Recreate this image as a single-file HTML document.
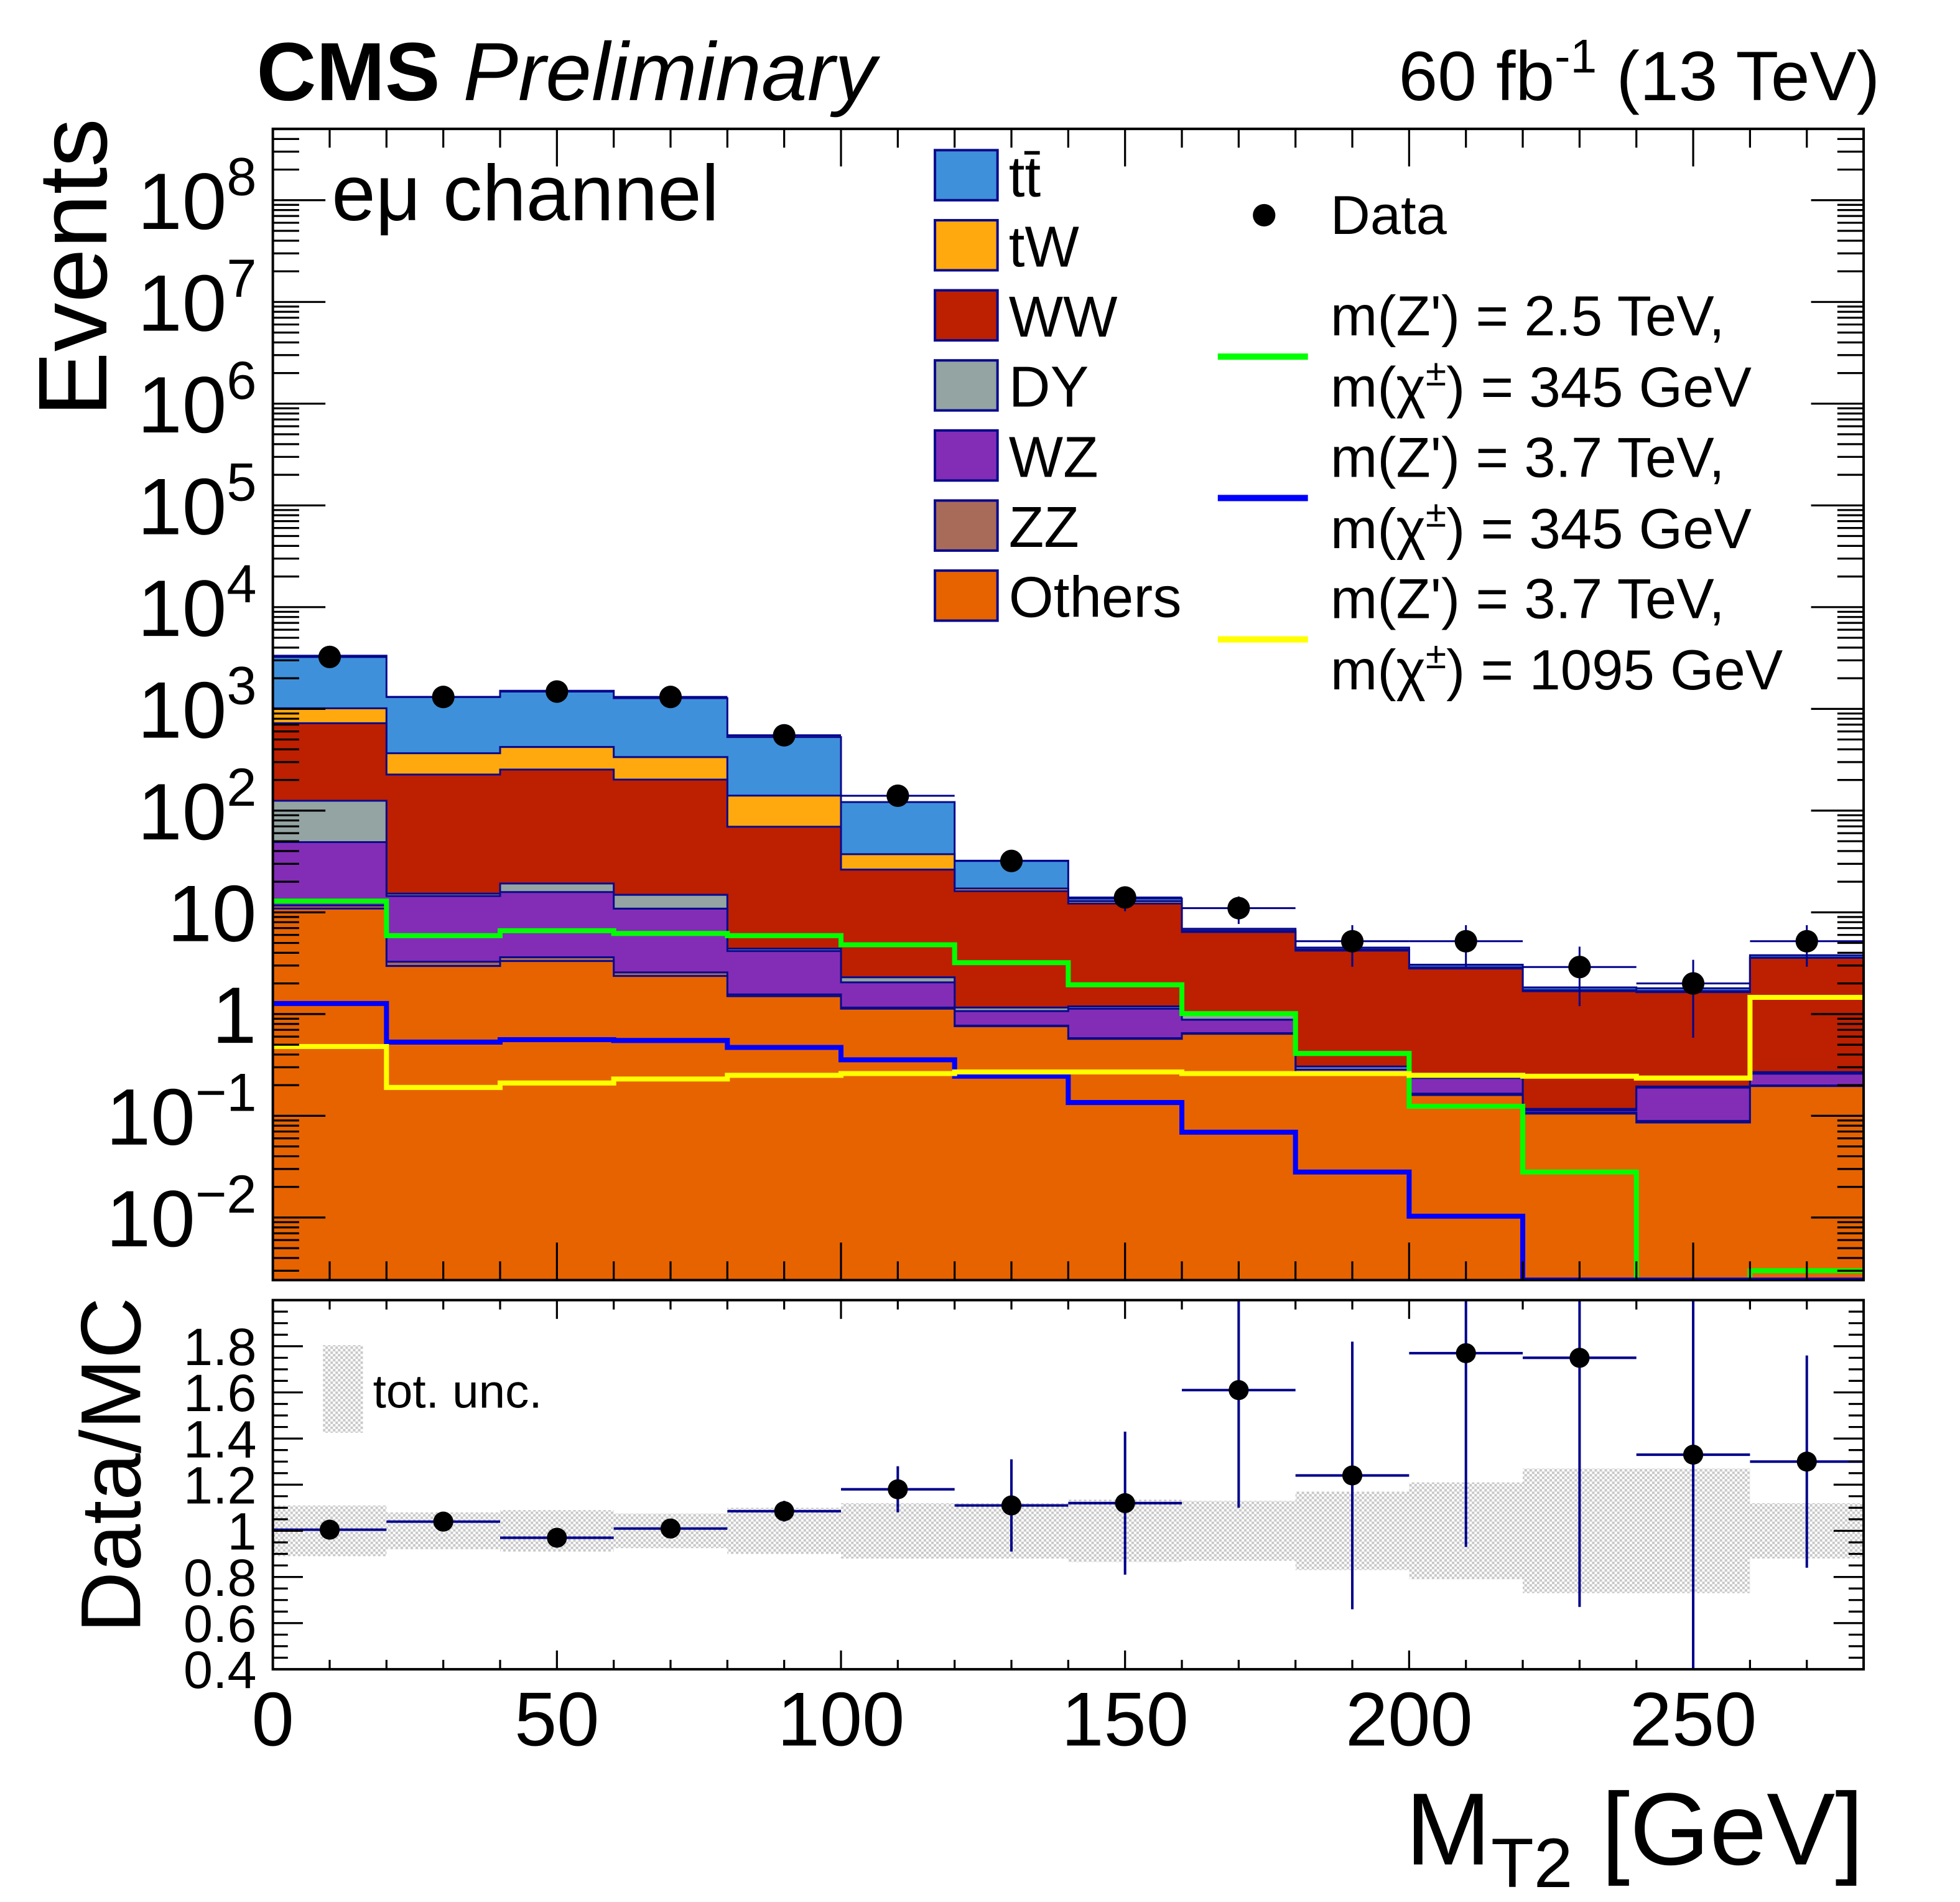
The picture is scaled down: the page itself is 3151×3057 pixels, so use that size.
<!DOCTYPE html>
<html><head><meta charset="utf-8"><style>
html,body{margin:0;padding:0;background:#fff}
svg{display:block}
text{font-family:"Liberation Sans",sans-serif;fill:#000}
</style></head><body>
<svg id="c" width="3151" height="3057" viewBox="0 0 1566 1520" preserveAspectRatio="none" xmlns="http://www.w3.org/2000/svg">
<defs>
<pattern id="hatch" width="4" height="4" patternUnits="userSpaceOnUse"><rect width="4" height="4" fill="#fff"/><rect width="2" height="2" fill="#c8c8c8"/><rect x="2" y="2" width="2" height="2" fill="#c8c8c8"/></pattern>
<clipPath id="clipMain"><rect x="218" y="103" width="1271" height="920"/></clipPath>
<clipPath id="clipRatio"><rect x="218" y="1039" width="1271" height="295"/></clipPath>
</defs>
<g id="main"></g>
<g id="ratio"></g>
<g id="labels">
<text x="205" y="80" font-size="66" font-weight="bold">CMS <tspan font-weight="normal" font-style="italic">Preliminary</tspan></text>
<text x="1502" y="80" font-size="56" text-anchor="end">60 fb<tspan dy="-22" font-size="38">-1</tspan><tspan dy="22"> (13 TeV)</tspan></text>
<text x="265" y="176" font-size="63">eμ channel</text>
<text transform="translate(85,333) rotate(-90)" font-size="78">Events</text>
<text transform="translate(112,1305) rotate(-90)" font-size="68">Data/MC</text>
<text x="1489" y="1490" font-size="82" text-anchor="end">M<tspan dy="18" font-size="56">T2</tspan><tspan dy="-18"> [GeV]</tspan></text>
</g>
<g id="legend"></g>
</svg>
<script>
const categories=[10,30,50,70,90,110,130,150,170,190,210,230,250,270];
const binEdges=[0,20,40,60,80,100,120,140,160,180,200,220,240,260,280];
const others=[10.9,2.97,3.32,2.37,1.50,1.13,0.76,0.57,0.64,0.26,0.16,0.105,0.086,0.196];
const zz=[0.8,0.3,0.3,0.2,0.06,0.03,0.01,0.01,0.01,0.005,0.005,0.002,0.003,0.003];
const wz=[37.3,11.2,12.2,8.3,2.6,0.89,0.30,0.55,0.23,0.02,0.07,0.006,0.1,0.06];
const dy=[76,0.8,3.4,4.0,0.23,0.25,0.09,0.06,0.12,0.02,0.02,0.004,0.005,0.01];
const ww=[598,211,234,187,65,24,15,11,5.4,3.9,2.55,1.56,1.45,3.3];
const tw=[291,140,169,134,71,11,1.0,0.7,0.2,0.1,0.07,0.04,0.04,0.02];
const ttbar=[2320,943,1085,938,388,84,15,0.8,0.3,0.2,0.18,0.11,0.11,0.2];
const dataVals=[3240,1310,1480,1310,550,140,32,14,11,5.2,5.2,2.9,2.0,5.2];
const sigGreen=[12.9,5.9,6.6,6.2,5.9,4.8,3.2,1.94,1.01,0.41,0.124,0.028,0,0.003];
const sigBlue=[1.27,0.53,0.56,0.55,0.47,0.355,0.245,0.135,0.069,0.028,0.0103,0,0,0];
const sigYellow=[0.48,0.19,0.21,0.23,0.25,0.26,0.27,0.27,0.26,0.26,0.25,0.245,0.235,1.46];
const ratioVals=[1.005,1.04,0.97,1.01,1.085,1.18,1.11,1.12,1.61,1.24,1.77,1.75,1.33,1.30];
const ratioErrHigh=[0.03,0.03,0.03,0.03,0.045,0.1,0.2,0.31,0.6,0.58,0.6,0.6,0.8,0.46];
const ratioErrLow=[0.03,0.03,0.03,0.03,0.045,0.1,0.2,0.31,0.51,0.58,0.84,1.08,1.0,0.46];
const uncHalf=[0.11,0.08,0.09,0.075,0.1,0.12,0.12,0.135,0.13,0.17,0.21,0.27,0.27,0.12];
const yTickExp=[-2,-1,0,1,2,3,4,5,6,7,8];
const ratioTicks=[0.4,0.6,0.8,1,1.2,1.4,1.6,1.8];
const xTicks=[0,50,100,150,200,250];

const NS="http://www.w3.org/2000/svg";
const L=218,R=1489,T=103,B=1023,RT=1039,RB=1334;
const X=v=>L+(v-0)/(280-0)*(R-L);
const Y=v=>v<=0?B+10:160-(Math.log10(v)-8)*81.3;
const YR=v=>RB-(v-0.4)/1.6*(RB-RT);
function mk(tag,attrs,parent){const e=document.createElementNS(NS,tag);for(const k in attrs)e.setAttribute(k,attrs[k]);parent.appendChild(e);return e;}
const main=document.getElementById('main'),ratio=document.getElementById('ratio'),leg=document.getElementById('legend');
const gm=mk('g',{'clip-path':'url(#clipMain)'},main);



const comps=[['others',others,'#e76300'],['zz',zz,'#a96b59'],['wz',wz,'#832db6'],['dy',dy,'#94a4a2'],['ww',ww,'#bd1f01'],['tw',tw,'#ffa90e'],['ttbar',ttbar,'#3f90da']];
const cum=[];let run=categories.map(()=>0);
comps.forEach(c=>{run=run.map((r,i)=>r+c[1][i]);cum.push(run.slice());});
function stepPath(vals,closed){let d='';vals.forEach((v,i)=>{const y=Y(v);d+=(i===0?'M':'L')+X(binEdges[i])+','+y+'L'+X(binEdges[i+1])+','+y;});if(closed)d+='L'+X(280)+','+(B+20)+'L'+X(0)+','+(B+20)+'Z';return d;}
for(let k=comps.length-1;k>=0;k--){
  const p=mk('path',{d:stepPath(cum[k],true),fill:comps[k][2],stroke:'#0a0a8c','stroke-width':1.5},gm);
  
  
}
[['signal-green',sigGreen,'#00ff00'],['signal-blue',sigBlue,'#0000ff'],['signal-yellow',sigYellow,'#ffff00']].forEach(s=>{
  const vals=s[1].map(v=>v<=0?0:v);
  let d='';vals.forEach((v,i)=>{const y=v<=0?B:Y(v);d+=(i===0?'M':'L')+X(binEdges[i])+','+y+'L'+X(binEdges[i+1])+','+y;});
  const p=mk('path',{d:d,fill:'none',stroke:s[2],'stroke-width':4},gm);
  
  
});
dataVals.forEach((v,i)=>{
  const cx=X(categories[i]),cy=Y(v),e=Math.sqrt(v);
  mk('line',{x1:X(binEdges[i]),x2:X(binEdges[i+1]),y1:cy,y2:cy,stroke:'#00008b','stroke-width':1.5},gm);
  mk('line',{x1:cx,x2:cx,y1:Y(v+e),y2:Y(Math.max(v-e,1e-4)),stroke:'#00008b','stroke-width':1.5},gm);
  const c=mk('ellipse',{cx:cx,cy:cy,rx:9,ry:9,fill:'#000'},gm);
  
  
});
mk('rect',{x:L,y:T,width:R-L,height:B-T,fill:'none',stroke:'#000','stroke-width':2},main);
for(let e=-3;e<=8;e++){for(let m=1;m<=9;m++){const v=m*Math.pow(10,e);const y=Y(v);if(y<T||y>B)continue;const len=m===1?42:21;
 mk('line',{x1:L,x2:L+len,y1:y,y2:y,stroke:'#000','stroke-width':1.6},main);
 mk('line',{x1:R,x2:R-len,y1:y,y2:y,stroke:'#000','stroke-width':1.6},main);}}
for(let v=0;v<=280;v+=10){const x=X(v);const len=v%50===0?30:15;
 mk('line',{x1:x,x2:x,y1:B,y2:B-len,stroke:'#000','stroke-width':1.6},main);
 mk('line',{x1:x,x2:x,y1:T,y2:T+len,stroke:'#000','stroke-width':1.6},main);
 mk('line',{x1:x,x2:x,y1:RB,y2:RB-len/2,stroke:'#000','stroke-width':1.6},ratio);
 mk('line',{x1:x,x2:x,y1:RT,y2:RT+len/2,stroke:'#000','stroke-width':1.6},ratio);}
yTickExp.forEach(e=>{const y=Y(Math.pow(10,e));
  const t=mk('text',{x:205,y:y+23,'font-size':64,'text-anchor':'end'},main);
  
  
  if(e===0)t.textContent='1';else if(e===1)t.textContent='10';
  else{t.textContent='10';const s=mk('tspan',{dy:-27,'font-size':43},t);s.textContent=e<0?'\u2212'+(-e):String(e);}
});
const gr=mk('g',{'clip-path':'url(#clipRatio)'},ratio);
uncHalf.forEach((h,i)=>{const r=mk('rect',{x:X(binEdges[i]),y:YR(1+h),width:X(binEdges[i+1])-X(binEdges[i]),height:YR(1-h)-YR(1+h),fill:'url(#hatch)'},gr);
 
 });
ratioVals.forEach((v,i)=>{const cx=X(categories[i]),cy=YR(v);
  mk('line',{x1:X(binEdges[i]),x2:X(binEdges[i+1]),y1:cy,y2:cy,stroke:'#00008b','stroke-width':2},gr);
  mk('line',{x1:cx,x2:cx,y1:YR(v+ratioErrHigh[i]),y2:YR(v-ratioErrLow[i]),stroke:'#00008b','stroke-width':2},gr);
  const c=mk('ellipse',{cx:cx,cy:cy,rx:8,ry:8,fill:'#000'},gr);
  
  });
mk('rect',{x:L,y:RT,width:R-L,height:RB-RT,fill:'none',stroke:'#000','stroke-width':2},ratio);
for(let v=0.4;v<=2.0001;v+=0.05){const y=YR(v);const major=Math.abs(v*5-Math.round(v*5))<1e-6;const len=major?24:12;
 mk('line',{x1:L,x2:L+len,y1:y,y2:y,stroke:'#000','stroke-width':1.6},ratio);
 mk('line',{x1:R,x2:R-len,y1:y,y2:y,stroke:'#000','stroke-width':1.6},ratio);}
ratioTicks.forEach(v=>{const t=mk('text',{x:205,y:YR(v)+15,'font-size':42,'text-anchor':'end'},ratio);t.textContent=String(v);
 
 });
xTicks.forEach(v=>{const t=mk('text',{x:X(v),y:1395,'font-size':61,'text-anchor':'middle'},ratio);t.textContent=String(v);
 
 });
const ub=mk('rect',{x:258,y:1075,width:32,height:70,fill:'url(#hatch)'},ratio);


const ut=mk('text',{x:298,y:1125,'font-size':38},ratio);ut.textContent='tot. unc.';


const legNames=['tt\u0304','tW','WW','DY','WZ','ZZ','Others'];
const legCols=['#3f90da','#ffa90e','#bd1f01','#94a4a2','#832db6','#a96b59','#e76300'];
legNames.forEach((n,i)=>{const yc=140+i*56;
 const r=mk('rect',{x:747,y:yc-20,width:50,height:40,fill:legCols[i],stroke:'#0a0a8c','stroke-width':2},leg);
 
 
 const t=mk('text',{x:806,y:yc+17,'font-size':46},leg);t.textContent=n;
 
 });
mk('circle',{cx:1010,cy:172,r:9,fill:'#000'},leg);
const dt=mk('text',{x:1063,y:187,'font-size':44},leg);dt.textContent='Data';


const sigCols=['#00ff00','#0000ff','#ffff00'];
const sigL1=['m(Z\') = 2.5 TeV,','m(Z\') = 3.7 TeV,','m(Z\') = 3.7 TeV,'];
const sigL2=['345 GeV','345 GeV','1095 GeV'];
sigCols.forEach((c,i)=>{const yc=285+i*113;
 const l=mk('line',{x1:973,x2:1045,y1:yc,y2:yc,stroke:c,'stroke-width':5},leg);
 
 
 const t1=mk('text',{x:1063,y:yc-17,'font-size':45},leg);t1.textContent=sigL1[i];
 
 
 const t2=mk('text',{x:1063,y:yc+40,'font-size':45},leg);t2.textContent='m(\u03c7';
 const s=mk('tspan',{dy:-17,'font-size':30},t2);s.textContent='\u00b1';
 const s2=mk('tspan',{dy:17},t2);s2.textContent=') = '+sigL2[i];
 
 });
</script>
</body></html>
